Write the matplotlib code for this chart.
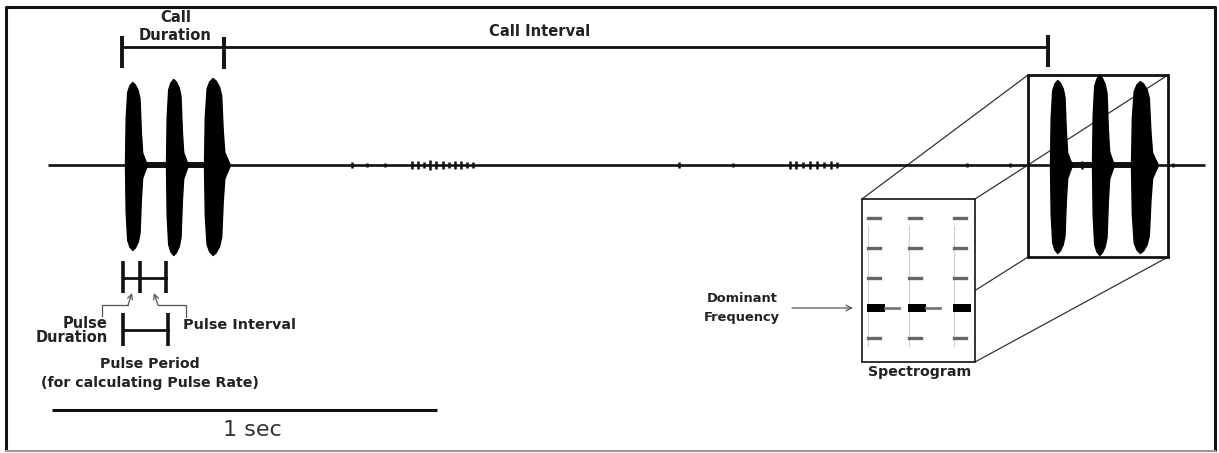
import matplotlib
matplotlib.use("Agg")
import matplotlib.pyplot as plt
from matplotlib.patches import Rectangle

W, H = 1219, 453

# ---------------- data (pixel units) ----------------
baseline_y = 165
baseline_span = [48, 1205]

# pulses: first call (3) and second call (3)
pulse_start = [125, 166, 204, 1050, 1092, 1131]
pulse_end = [147, 188, 230, 1072, 1114, 1158]
pulse_top = [83, 86, 87, 85, 90, 84]       # amplitude above baseline
pulse_bottom = [85, 90, 90, 88, 90, 88]    # amplitude below baseline

# normalised amplitude envelope of one pulse (fraction of pulse length -> amplitude)
envelope_frac = [0, 0.03, 0.1, 0.2, 0.33, 0.45, 0.58, 0.66, 0.72, 0.78, 0.88, 1.0]
envelope_norm = [0, 0.55, 0.88, 0.96, 1.0, 0.97, 0.9, 0.8, 0.4, 0.15, 0.08, 0.0]

# small background noise bursts on the baseline
noise_x = [352, 367, 385, 412, 418, 424, 430, 436, 443, 449, 455, 461, 467, 473,
           679, 733, 790, 796, 803, 810, 817, 824, 831, 837, 967, 1010, 1082, 1173]
noise_amp = [3, 2, 2, 4, 4, 3, 5, 4, 4, 3, 4, 4, 3, 3,
             3, 2, 4, 4, 3, 4, 4, 3, 4, 3, 2, 2, 4, 2]

# measurement brackets
call_duration_x = [122, 224]
call_interval_x = [224, 1048]
bracket_y = 47
pulse_ticks_x = [123, 140, 166]
pulse_ticks_y = 278
pulse_period_x = [123, 168]
pulse_period_y = 330
scale_bar_x = [52, 437]
scale_bar_y = 410

# spectrogram
spec_columns_x = [867, 908, 953]
spec_band_y = [218, 248, 278, 308, 338]
spec_band_dominant = [False, False, False, True, False]

# text labels
labels = ["Call", "Duration", "Call Interval", "Pulse", "Duration", "Pulse Interval",
          "Pulse Period", "(for calculating Pulse Rate)", "Dominant", "Frequency",
          "Spectrogram"]
label_x = [176, 175, 540, 108, 108, 183, 150, 150, 742, 742, 920]
label_y = [18, 35, 32, 323, 338, 325, 364, 383, 299, 317, 372]
label_ha = ["center", "center", "center", "right", "right", "left", "center",
            "center", "center", "center", "center"]
label_size = [10.6, 10.6, 10.6, 10.5, 10.5, 10.4, 10.2, 10.2, 9.4, 9.4, 10.2]
scale_label = "1 sec"

# ---------------------------------------------------------------------------
fig = plt.figure(figsize=(W / 100, H / 100), dpi=100)
ax = fig.add_axes([0, 0, 1, 1])
ax.set_xlim(0, W)
ax.set_ylim(H, 0)
ax.axis("off")

INK = "#111111"
THIN = "#555555"

# outer frame
ax.plot([6, 6, 1215, 1215], [451, 7, 7, 451], color=INK, lw=2.2, solid_capstyle="butt")
ax.plot([6, 1215], [451, 451], color="#999999", lw=1.5)

# 3D magnifier box: connecting edges
front = (862, 199, 975, 362)   # x0, y0, x1, y1
back = (1028, 75, 1168, 257)
edge_kw = dict(color="#333333", lw=0.9, zorder=1)
ax.plot([front[0], back[0]], [front[1], back[1]], **edge_kw)
ax.plot([front[2], back[2]], [front[1], back[1]], **edge_kw)
ax.plot([front[2], back[2]], [front[3], back[3]], **edge_kw)
ax.plot([front[0], back[0]], [front[3], back[3]], **edge_kw)
ax.add_patch(Rectangle((back[0], back[1]), back[2] - back[0], back[3] - back[1],
                       fill=False, ec=INK, lw=2.0, zorder=4))

# baseline
ax.plot(baseline_span, [baseline_y, baseline_y], color=INK, lw=1.9, zorder=3,
        solid_capstyle="butt")
ax.vlines(noise_x, [baseline_y - a for a in noise_amp], [baseline_y + a for a in noise_amp],
          color=INK, lw=1.8, zorder=3)
# thicker baseline inside the calls
for x0, x1 in [(pulse_start[0], pulse_end[2]), (pulse_start[3], pulse_end[5])]:
    ax.fill_between([x0, x1], baseline_y - 3, baseline_y + 3, color=INK, lw=0, zorder=3)

# pulses
for s, e, t, b in zip(pulse_start, pulse_end, pulse_top, pulse_bottom):
    xs = [s + f * (e - s) for f in envelope_frac]
    up = [baseline_y - t * n for n in envelope_norm]
    lo = [baseline_y + b * n for n in envelope_norm]
    ax.fill_between(xs, up, lo, color="black", lw=1.0, edgecolor="black", zorder=5)

# call duration / interval brackets
ax.plot([call_duration_x[0], call_interval_x[1]], [bracket_y, bracket_y], color=INK, lw=2.0,
        solid_capstyle="butt")
for x, y0, y1 in [(call_duration_x[0], 36, 68), (call_duration_x[1], 37, 69),
                  (call_interval_x[1], 35, 67)]:
    ax.plot([x, x], [y0, y1], color=INK, lw=2.8, solid_capstyle="butt")

# pulse duration / interval brackets
ax.plot([pulse_ticks_x[0], pulse_ticks_x[-1]], [pulse_ticks_y, pulse_ticks_y], color=INK, lw=2.0)
for x in pulse_ticks_x:
    ax.plot([x, x], [261, 293], color=INK, lw=2.6, solid_capstyle="butt")
ax.plot(pulse_period_x, [pulse_period_y, pulse_period_y], color=INK, lw=2.0)
for x in pulse_period_x:
    ax.plot([x, x], [313, 346], color=INK, lw=2.6, solid_capstyle="butt")

# thin elbow arrows
ax.plot([102, 102, 128], [316, 305, 305], color=THIN, lw=0.9)
ax.annotate("", xy=(132, 293), xytext=(128, 305),
            arrowprops=dict(arrowstyle="->", color=THIN, lw=0.9, mutation_scale=9,
                            shrinkA=0, shrinkB=0))
ax.plot([186, 186, 158], [317, 305, 305], color=THIN, lw=0.9)
ax.annotate("", xy=(154, 293), xytext=(158, 305),
            arrowprops=dict(arrowstyle="->", color=THIN, lw=0.9, mutation_scale=9,
                            shrinkA=0, shrinkB=0))

# scale bar
ax.plot(scale_bar_x, [scale_bar_y, scale_bar_y], color=INK, lw=2.2, solid_capstyle="butt")
ax.text(252, 430, scale_label, ha="center", va="center",
        fontsize=16, color="#333333", family="DejaVu Sans")

# spectrogram front face
ax.add_patch(Rectangle((front[0], front[1]), front[2] - front[0], front[3] - front[1],
                       fc="white", ec=INK, lw=1.2, zorder=6))
for cx in spec_columns_x:
    ax.plot([cx + 1, cx + 1], [226, 346], color="#d0d0d0", lw=0.8, zorder=7)
    for by, dom in zip(spec_band_y, spec_band_dominant):
        if dom:
            ax.fill_between([cx, cx + 18], by - 4, by + 4, color="black", lw=0, zorder=8)
            if cx + 34 < front[2]:
                ax.plot([cx + 18, cx + 32], [by, by], color="#777777", lw=2.0, zorder=8)
        else:
            ax.plot([cx + 1, cx + 13], [by, by], color="#666666", lw=2.4, zorder=8)

ax.annotate("", xy=(853, 308), xytext=(792, 308),
            arrowprops=dict(arrowstyle="->", color=THIN, lw=0.9, mutation_scale=10,
                            shrinkA=0, shrinkB=0))

# labels
for s, x, y, ha, fs in zip(labels, label_x, label_y, label_ha, label_size):
    ax.text(x, y, s, ha=ha, va="center", fontsize=fs, fontweight="bold",
            color="#222222", family="DejaVu Sans", zorder=9)

fig.savefig("out.png", dpi=100)
